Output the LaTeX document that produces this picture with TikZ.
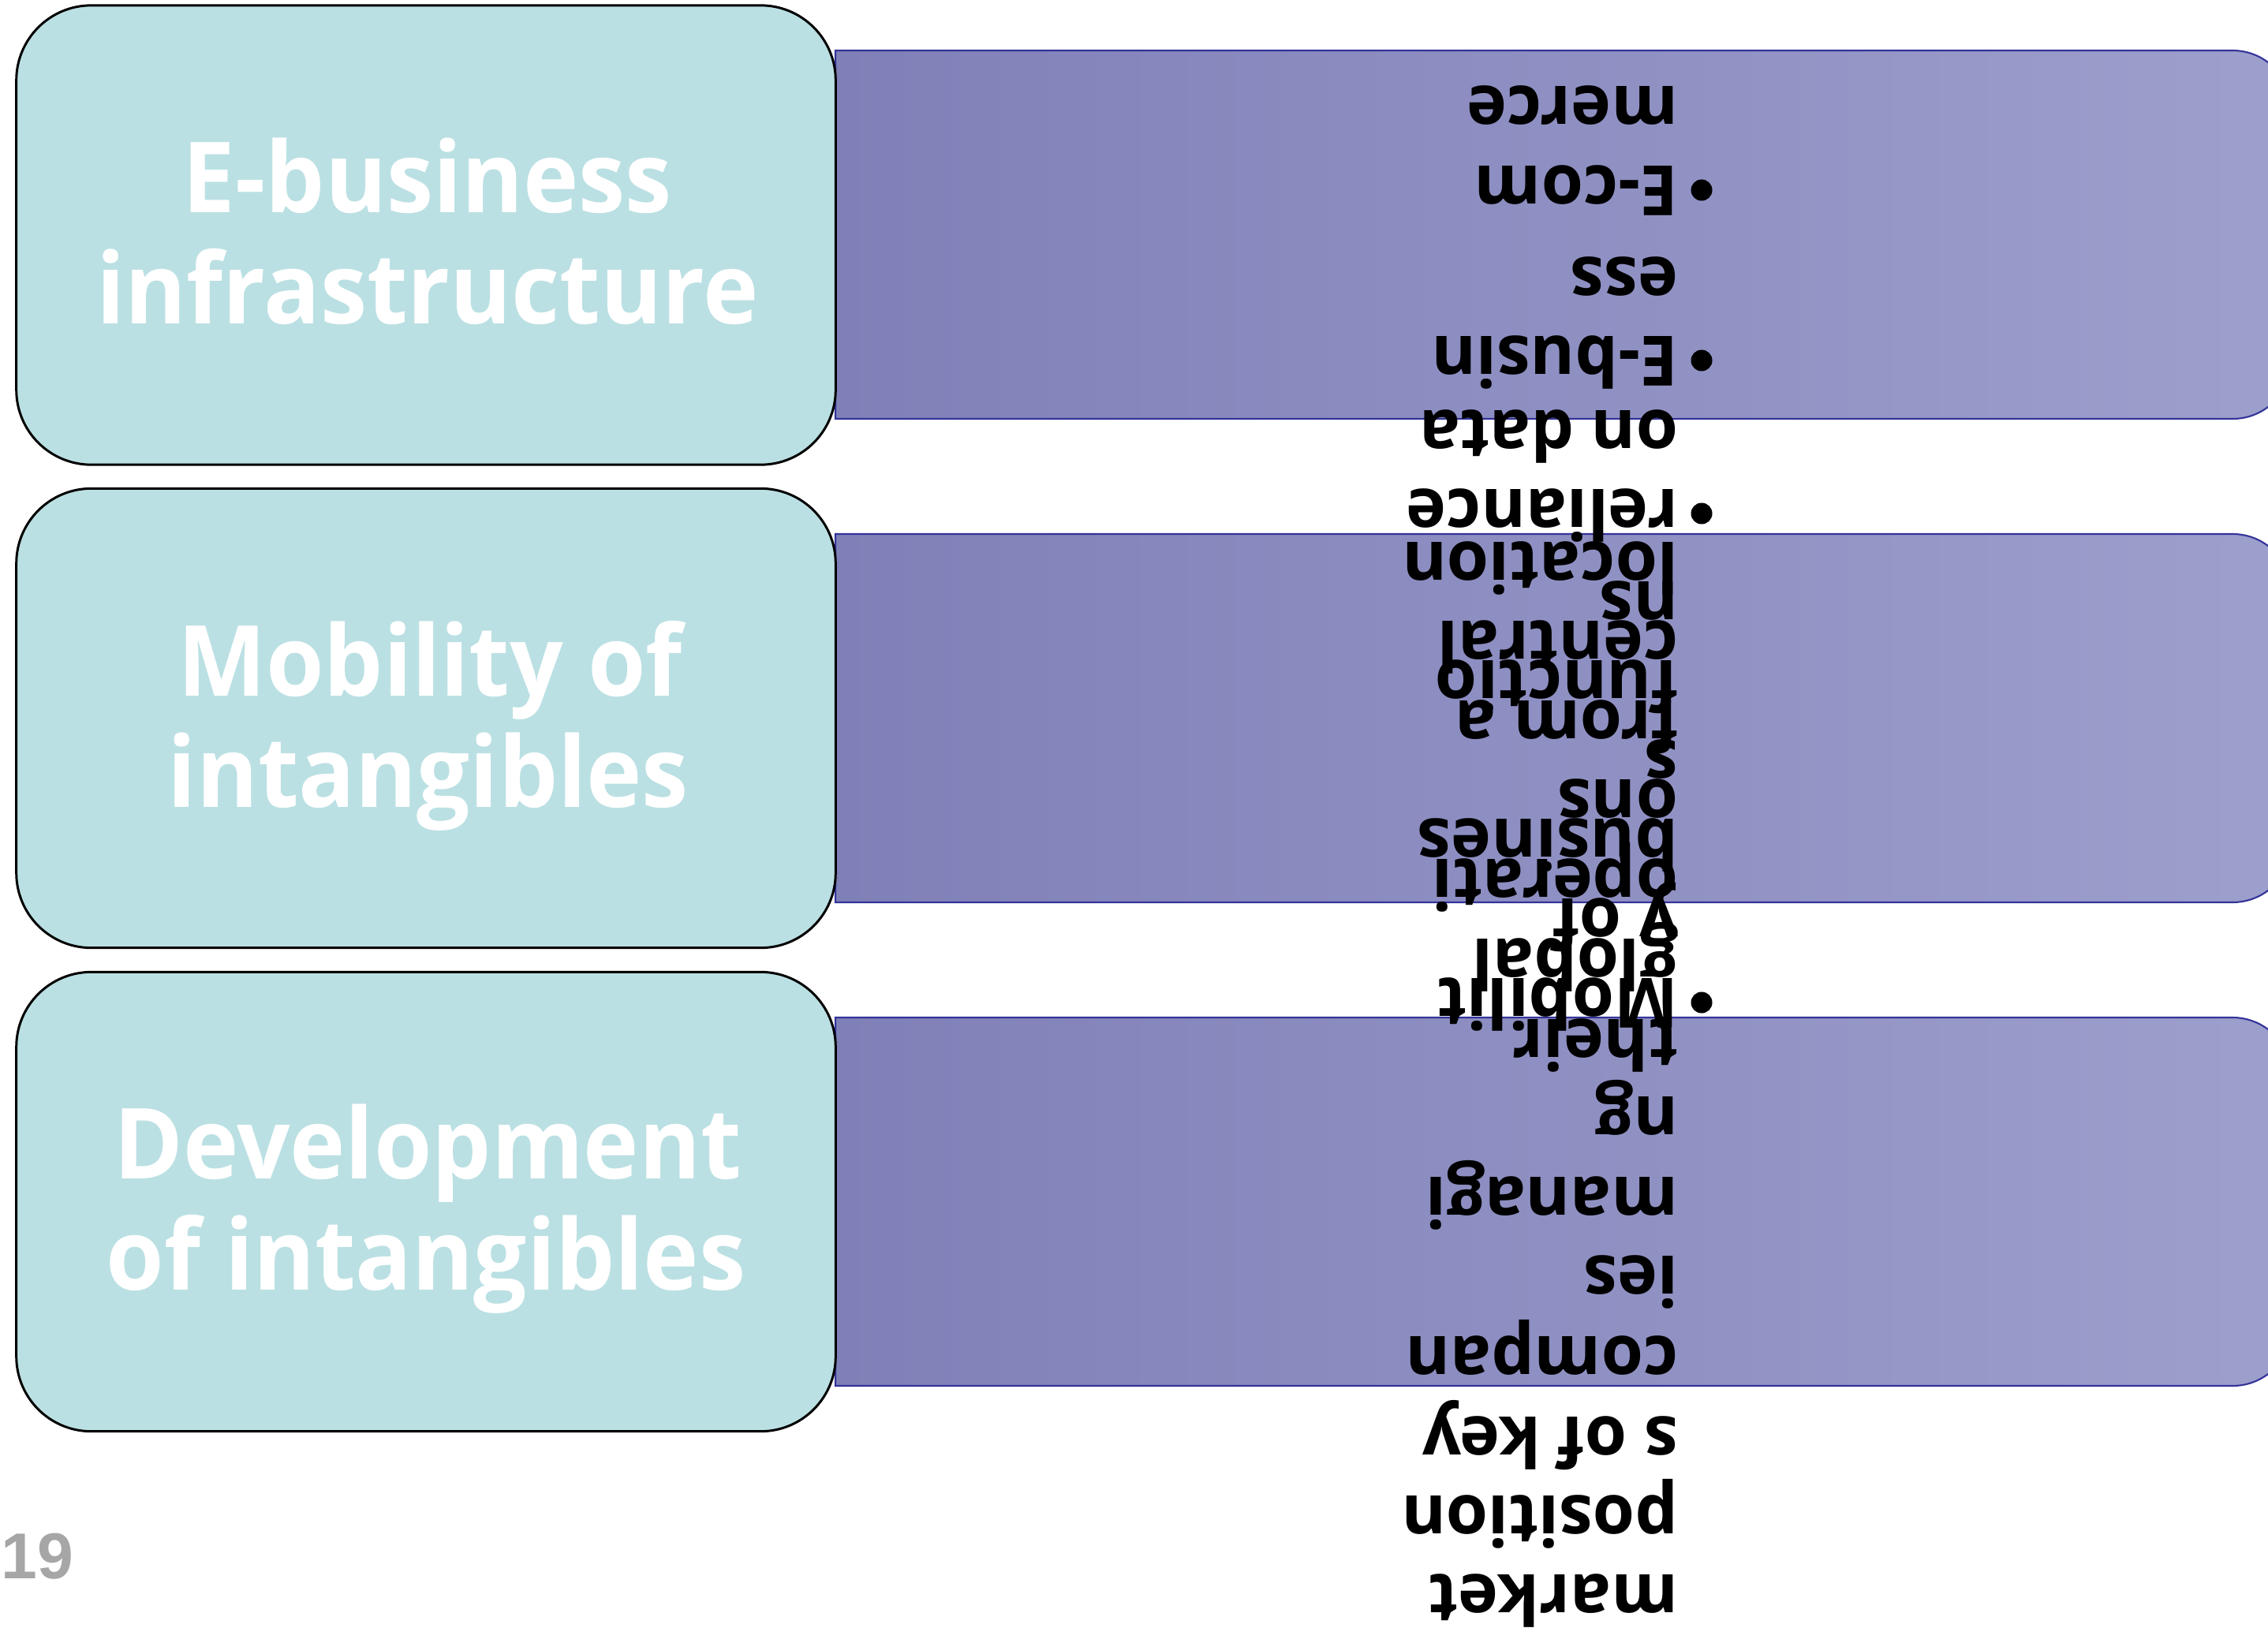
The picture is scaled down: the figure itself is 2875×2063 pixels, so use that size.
\documentclass[tikz,border=0pt]{standalone}
\usepackage{fontspec}
\newfontfamily\boxfont[FakeStretch=0.955]{Open Sans}
\newfontfamily\listfont[FakeStretch=0.98]{Open Sans}
\newfontfamily\numfont{Liberation Sans}
\definecolor{boxfill}{RGB}{187,224,227}
\definecolor{barL}{RGB}{128,128,184}
\definecolor{barR}{RGB}{157,159,204}
\definecolor{barline}{RGB}{51,51,153}
\definecolor{numgray}{RGB}{166,166,166}
\tikzset{
  lbox/.style={draw=black, line width=0.85pt, fill=boxfill, rounded corners=0.95cm,
    minimum width=10.38cm, minimum height=5.82cm, inner sep=0pt},
  bar/.style={draw=barline, line width=0.6pt, left color=barL, right color=barR},
  lt/.style={font=\boxfont\bfseries\fontsize{35.4}{35.4}\selectfont, text=white, anchor=base, inner sep=0pt},
  rt/.style={font=\listfont\bfseries\fontsize{25}{25}\selectfont, rotate=180, anchor=base west, inner sep=0pt},
  bul/.style={circle, fill=black, minimum size=0.27cm, inner sep=0pt},
}
\begin{document}
\begin{tikzpicture}[x=0.01cm,y=-0.01cm]
\useasboundingbox (0,0) rectangle (2875,2063);
% bars
\path[bar] (1059,64) -- (2830,64) .. controls (2871.4,64) and (2905,97.6) .. (2905,139)
  -- (2905,456) .. controls (2905,497.4) and (2871.4,531) .. (2830,531) -- (1059,531) -- cycle;
\path[bar] (1059,677) -- (2830,677) .. controls (2871.4,677) and (2905,710.6) .. (2905,752)
  -- (2905,1069) .. controls (2905,1110.4) and (2871.4,1144) .. (2830,1144) -- (1059,1144) -- cycle;
\path[bar] (1059,1290) -- (2830,1290) .. controls (2871.4,1290) and (2905,1323.6) .. (2905,1365)
  -- (2905,1682) .. controls (2905,1723.4) and (2871.4,1757) .. (2830,1757) -- (1059,1757) -- cycle;
% boxes
\node[lbox] (box1) at (540,298) {};
\node[lbox] (box2) at (540,910.5) {};
\node[lbox] (box3) at (540,1523.5) {};
% box texts
\node[lt] (a1) at (542,269) {E-business};
\node[lt] (a2) at (542,410) {infrastructure};
\node[lt] (b1) at (545,882) {Mobility of};
\node[lt] (b2) at (543,1023) {intangibles};
\node[lt] (c1) at (542,1494) {Development};
\node[lt] (c2) at (540,1635) {of intangibles};
% list text (upside down)
\node[rt] (t1) at (2128,109) {merce};
\node[rt] (t2) at (2128,210) {E-com};
\node[rt] (t3) at (2128,326) {ess};
\node[rt] (t4) at (2128,426) {E-busin};
\node[rt] (t5) at (2128,520) {on data};
\node[rt] (t6) at (2128,620) {reliance};
\node[rt] (t7) at (2128,687) {location};
\node[rt] (t8) at (2128,737) {ns};
\node[rt] (t9) at (2128,787) {central};
\node[rt] (t10) at (2128,837) {functio};
\node[rt] (t11) at (2128,888) {from a};
\node[rt] (t12) at (2128,938) {s};
\node[rt] (t13) at (2128,988) {ons};
\node[rt] (t14) at (2128,1038) {busines};
\node[rt] (t15) at (2128,1089) {operati};
\node[rt] (t16) at (2128,1139) {y of};
\node[rt] (t17) at (2128,1190) {global};
\node[rt] (t18) at (2128,1240) {Mobilit};
\node[rt] (t19) at (2128,1292) {their};
\node[rt] (t20) at (2128,1390) {ng};
\node[rt] (t21) at (2128,1492) {managi};
\node[rt] (t22) at (2128,1592) {ies};
\node[rt] (t23) at (2128,1694) {compan};
\node[rt] (t24) at (2128,1796) {s of key};
\node[rt] (t25) at (2128,1896) {position};
\node[rt] (t26) at (2128,1996) {market};
% bullets
\node[bul] (d1) at (2157,241) {};
\node[bul] (d2) at (2157,457) {};
\node[bul] (d3) at (2157,651) {};
\node[bul] (d4) at (2157,1271) {};
% page number
\node[font=\numfont\bfseries\fontsize{23.4}{23.4}\selectfont, text=numgray, anchor=base west, inner sep=0pt] (pg) at (1,2001) {19};
\end{tikzpicture}
\end{document}
